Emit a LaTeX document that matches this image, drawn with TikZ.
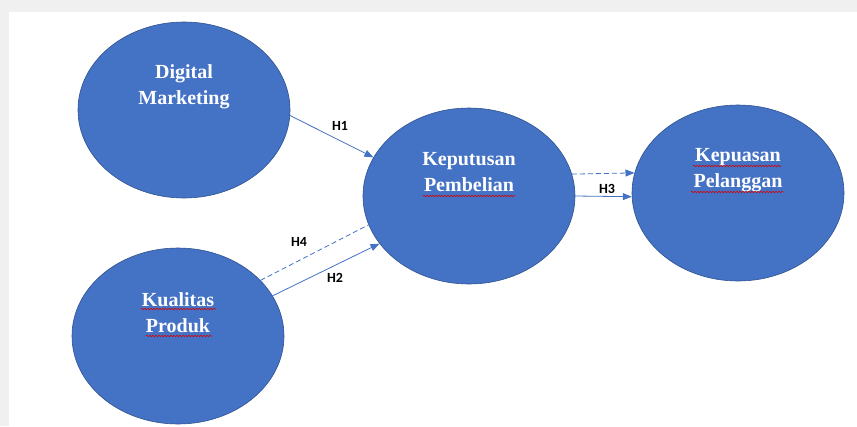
\documentclass[tikz,border=0pt]{standalone}
\usepackage{fontspec}
\setmainfont{Liberation Serif}
\newfontfamily\hypfont{Carlito}
\usetikzlibrary{shapes.geometric,arrows.meta,decorations.pathmorphing}
\definecolor{varblue}{HTML}{4472C4}
\definecolor{varedge}{HTML}{2F528F}
\definecolor{framegray}{HTML}{F0F0F0}
\tikzset{
    var/.style={ellipse,fill=varblue,draw=varedge,line width=.6pt,minimum width=212pt,minimum height=176pt,inner sep=0pt},
    term/.style={text=white,font=\bfseries\fontsize{20}{26}\selectfont,align=center,inner sep=0pt},
    hyp/.style={font=\hypfont\bfseries\fontsize{14}{16}\selectfont,inner sep=0pt},
    link/.style={draw=varblue,line width=.8pt,-{Triangle[length=9pt,width=7pt]}},
    guess/.style={draw=varblue,line width=.8pt,dash pattern=on 5pt off 3pt},
    squig/.style={draw=red!85!black,line width=.6pt,decorate,decoration={snake,amplitude=.7pt,segment length=3pt}}
}
\begin{document}
\begin{tikzpicture}[x=1pt,y=-1pt]
                    \useasboundingbox (0,0) rectangle (857,426);
                    \fill[framegray] (0,0) rectangle (857,426);
                    \fill[white] (9,12) rectangle (857,426);
                    \node[var] (dm) at (184,110) {};
                    \node[var] (kp) at (469,196) {};
                    \node[var] (kq) at (178,336) {};
                    \node[var] (ks) at (738,193) {};
                    \node[term] (dmtext) at (184,87) {Digital\\Marketing};
                    \node[term] (kptext) at (469,172) {Keputusan\\Pembelian};
                    \node[term] (kqtext) at (178,313) {Kualitas\\Produk};
                    \node[term] (kstext) at (738,170) {Kepuasan\\Pelanggan};
                    \draw[squig] (423,196) -- (515,196);
                    \draw[squig] (141,309) -- (216,309);
                    \draw[squig] (146,336) -- (212,336);
                    \draw[squig] (693,166) -- (781,166);
                    \draw[squig] (691,192) -- (783,192);
                    \draw[link] (dm.-3) -- (kp.158.6);
                    \draw[link] (kq.23.8) -- (kp.208.3);
                    \draw[guess] (kq.34.5) -- (kp.196.9);
                    \draw[link,guess] (kp.12.4) -- (ks.169.2);
                    \draw[link] (kp.east) -- (ks.182);
                    \node[hyp] (h1) at (340,126) {H1};
                    \node[hyp] (h4) at (299,242) {H4};
                    \node[hyp] (h2) at (335,278) {H2};
                    \node[hyp] (h3) at (607,189) {H3};
                \end{tikzpicture}
\end{document}
